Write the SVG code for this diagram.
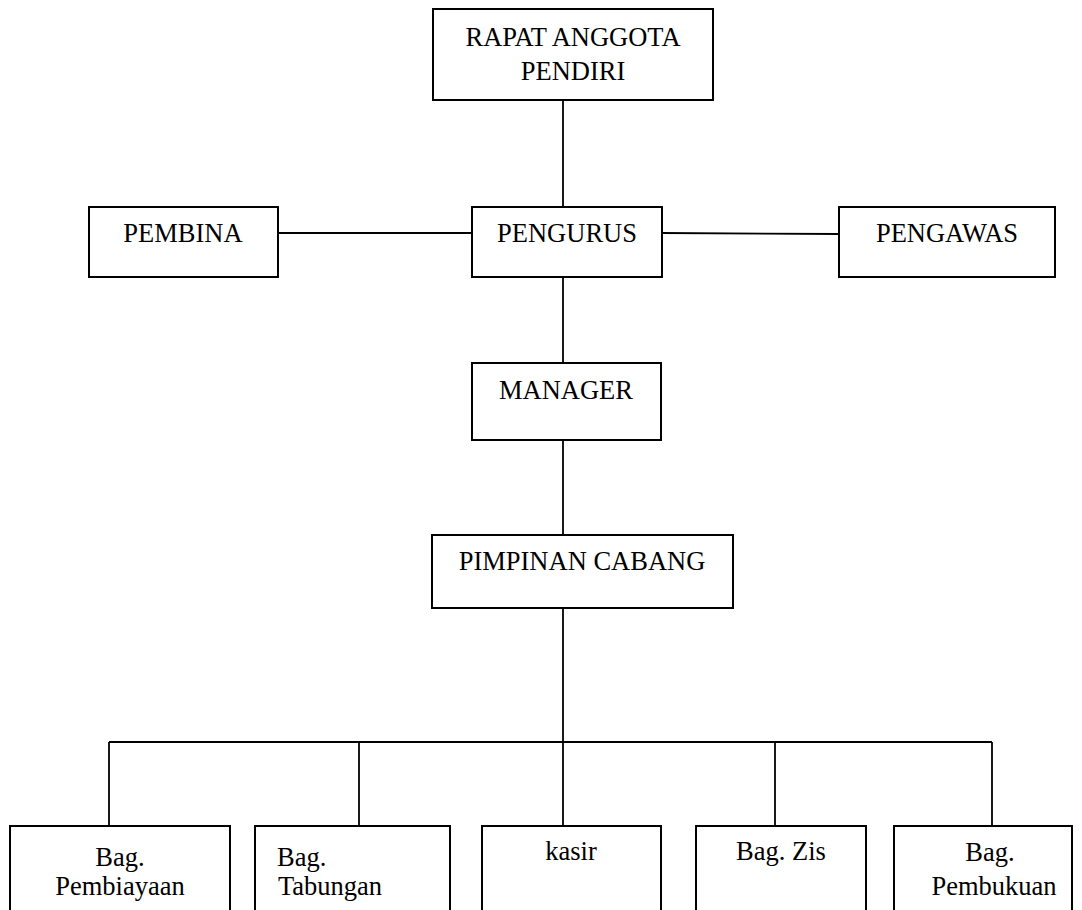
<svg xmlns="http://www.w3.org/2000/svg" width="1082" height="910" viewBox="0 0 1082 910">
<style>
.box{fill:#fff;stroke:#000;stroke-width:2}
.t{font-family:"Liberation Serif","Times New Roman",serif;font-size:26.5px;fill:#000}
.c{text-anchor:middle}
#connectors line{stroke:#000;stroke-width:1.8}
</style>
<rect width="1082" height="910" fill="#fff"/>
<g id="connectors">
<line x1="563" y1="100" x2="563" y2="207"/>
<line x1="278" y1="233" x2="472" y2="233"/>
<line x1="662" y1="233" x2="839" y2="234"/>
<line x1="563" y1="277" x2="563" y2="366"/>
<line x1="563" y1="435" x2="563" y2="535"/>
<line x1="563" y1="608" x2="563" y2="830"/>
<line x1="109" y1="742" x2="992" y2="742"/>
<line x1="109" y1="742" x2="109" y2="826"/>
<line x1="359" y1="742" x2="359" y2="830"/>
<line x1="775" y1="742" x2="775" y2="826"/>
<line x1="992" y1="742" x2="992" y2="826"/>
</g>
<g id="rapat"><rect class="box" x="433" y="9" width="280" height="91"/>
<text class="t c" x="573" y="46">RAPAT ANGGOTA</text><text class="t c" x="573" y="80">PENDIRI</text></g>
<g id="pembina"><rect class="box" x="89" y="207" width="189" height="70"/><text class="t c" x="183" y="242">PEMBINA</text></g>
<g id="pengurus"><rect class="box" x="472" y="207" width="190" height="70"/><text class="t c" x="567" y="242">PENGURUS</text></g>
<g id="pengawas"><rect class="box" x="839" y="207" width="216" height="70"/><text class="t c" x="947" y="242">PENGAWAS</text></g>
<g id="manager"><rect class="box" x="472" y="363" width="189" height="77"/><text class="t c" x="566" y="399">MANAGER</text></g>
<g id="pimpinan"><rect class="box" x="432" y="535" width="301" height="73"/><text class="t c" x="582" y="570">PIMPINAN CABANG</text></g>
<g id="pembiayaan"><rect class="box" x="10" y="826" width="220" height="100"/>
<text class="t c" x="120" y="866">Bag.</text><text class="t c" x="120" y="895">Pembiayaan</text></g>
<g id="tabungan"><rect class="box" x="255" y="826" width="195" height="100"/>
<text class="t" x="277" y="866">Bag.</text><text class="t" x="278" y="895">Tabungan</text></g>
<g id="kasir"><rect class="box" x="482" y="826" width="179" height="100"/><text class="t c" x="571" y="860">kasir</text></g>
<g id="zis"><rect class="box" x="696" y="826" width="170" height="100"/><text class="t c" x="781" y="860">Bag. Zis</text></g>
<g id="pembukuan"><rect class="box" x="894" y="826" width="178" height="100"/>
<text class="t c" x="990" y="861">Bag.</text><text class="t c" x="994" y="895">Pembukuan</text></g>
</svg>
